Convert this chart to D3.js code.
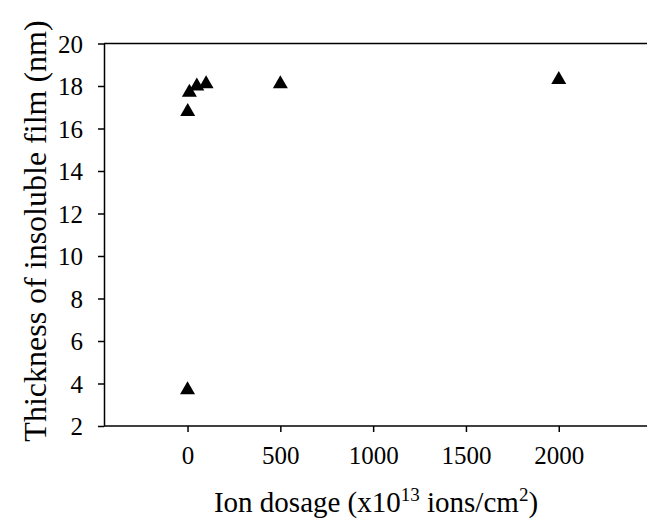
<!DOCTYPE html>
<html>
<head>
<meta charset="utf-8">
<script src="https://cdn.jsdelivr.net/npm/d3@7"></script>
<style>
  body { margin: 0; background: #fff; }
  text { font-family: "Liberation Serif", "Times New Roman", serif; fill: #000; }
</style>
</head>
<body>
<script>
"use strict";
// data
const dosage = [0, 1, 10, 50, 100, 500, 2000]
const thickness = [3.8, 16.9, 17.8, 18.1, 18.2, 18.2, 18.4]
const xTicks = [0, 500, 1000, 1500, 2000]
const yTicks = [2, 4, 6, 8, 10, 12, 14, 16, 18, 20]

const size = { width: 647, height: 527 }
const plot = { left: 104, right: 646, top: 43.5, bottom: 426 }

let svg = d3.select("body").append("svg")
    .attr("width", size.width)
    .attr("height", size.height)

let x = d3.scaleLinear()
    .domain([-450, 2470])
    .range([plot.left, plot.right])

let y = d3.scaleLinear()
    .domain([2, 20])
    .range([plot.bottom, plot.top])

// top border of the frame (right side is cut off)
svg.append("line")
    .attr("x1", plot.left).attr("x2", plot.right + 2)
    .attr("y1", plot.top).attr("y2", plot.top)
    .attr("stroke", "#000").attr("stroke-width", 1.5)

let xAxis = d3.axisBottom(x)
    .tickValues(xTicks)
    .tickFormat(d3.format("d"))
    .tickSize(6)
    .tickSizeOuter(0)
    .tickPadding(19)

let yAxis = d3.axisLeft(y)
    .tickValues(yTicks)
    .tickFormat(d3.format("d"))
    .tickSize(6)
    .tickSizeOuter(0)
    .tickPadding(15)

let gx = svg.append("g")
    .attr("transform", `translate(0, ${plot.bottom})`)
    .call(xAxis)

let gy = svg.append("g")
    .attr("transform", `translate(${plot.left}, 0)`)
    .call(yAxis)

// extend bottom axis line to the edge
gx.select(".domain").attr("d", `M${plot.left},0H${plot.right + 2}`)

for (const g of [gx, gy]) {
    g.attr("font-family", null).attr("font-size", null)
    g.selectAll(".domain, .tick line").attr("stroke", "#000").attr("stroke-width", 1.5)
    g.selectAll(".tick text")
        .style("font-family", '"Liberation Serif", serif')
        .style("font-size", "25px")
        .attr("fill", "#000")
}
gx.selectAll(".tick text").attr("dy", "0.5em")
gy.selectAll(".tick text").attr("dy", "0.34em")

// triangle markers, centred on the bounding box
const triW = 15, triH = 13
svg.selectAll(".marker")
    .data(dosage.map((d, i) => ({ dose: d, nm: thickness[i] })))
    .enter()
    .append("path")
    .attr("class", "marker")
    .attr("d", d => {
        const cx = x(d.dose), cy = y(d.nm)
        return `M${cx},${cy - triH / 2}L${cx + triW / 2},${cy + triH / 2}L${cx - triW / 2},${cy + triH / 2}Z`
    })
    .attr("fill", "#000")

// axis titles
let xTitle = svg.append("text")
    .attr("x", 376)
    .attr("y", 512)
    .attr("text-anchor", "middle")
    .style("font-size", "29px")
xTitle.append("tspan").text("Ion dosage (x10")
xTitle.append("tspan").attr("dy", -11).style("font-size", "19px").text("13")
xTitle.append("tspan").attr("dy", 11).text(" ions/cm")
xTitle.append("tspan").attr("dy", -11).style("font-size", "19px").text("2")
xTitle.append("tspan").attr("dy", 11).text(")")

svg.append("text")
    .attr("transform", "translate(46, 231) rotate(-90)")
    .attr("text-anchor", "middle")
    .style("font-size", "32px")
    .text("Thickness of insoluble film (nm)")
</script>
</body>
</html>
